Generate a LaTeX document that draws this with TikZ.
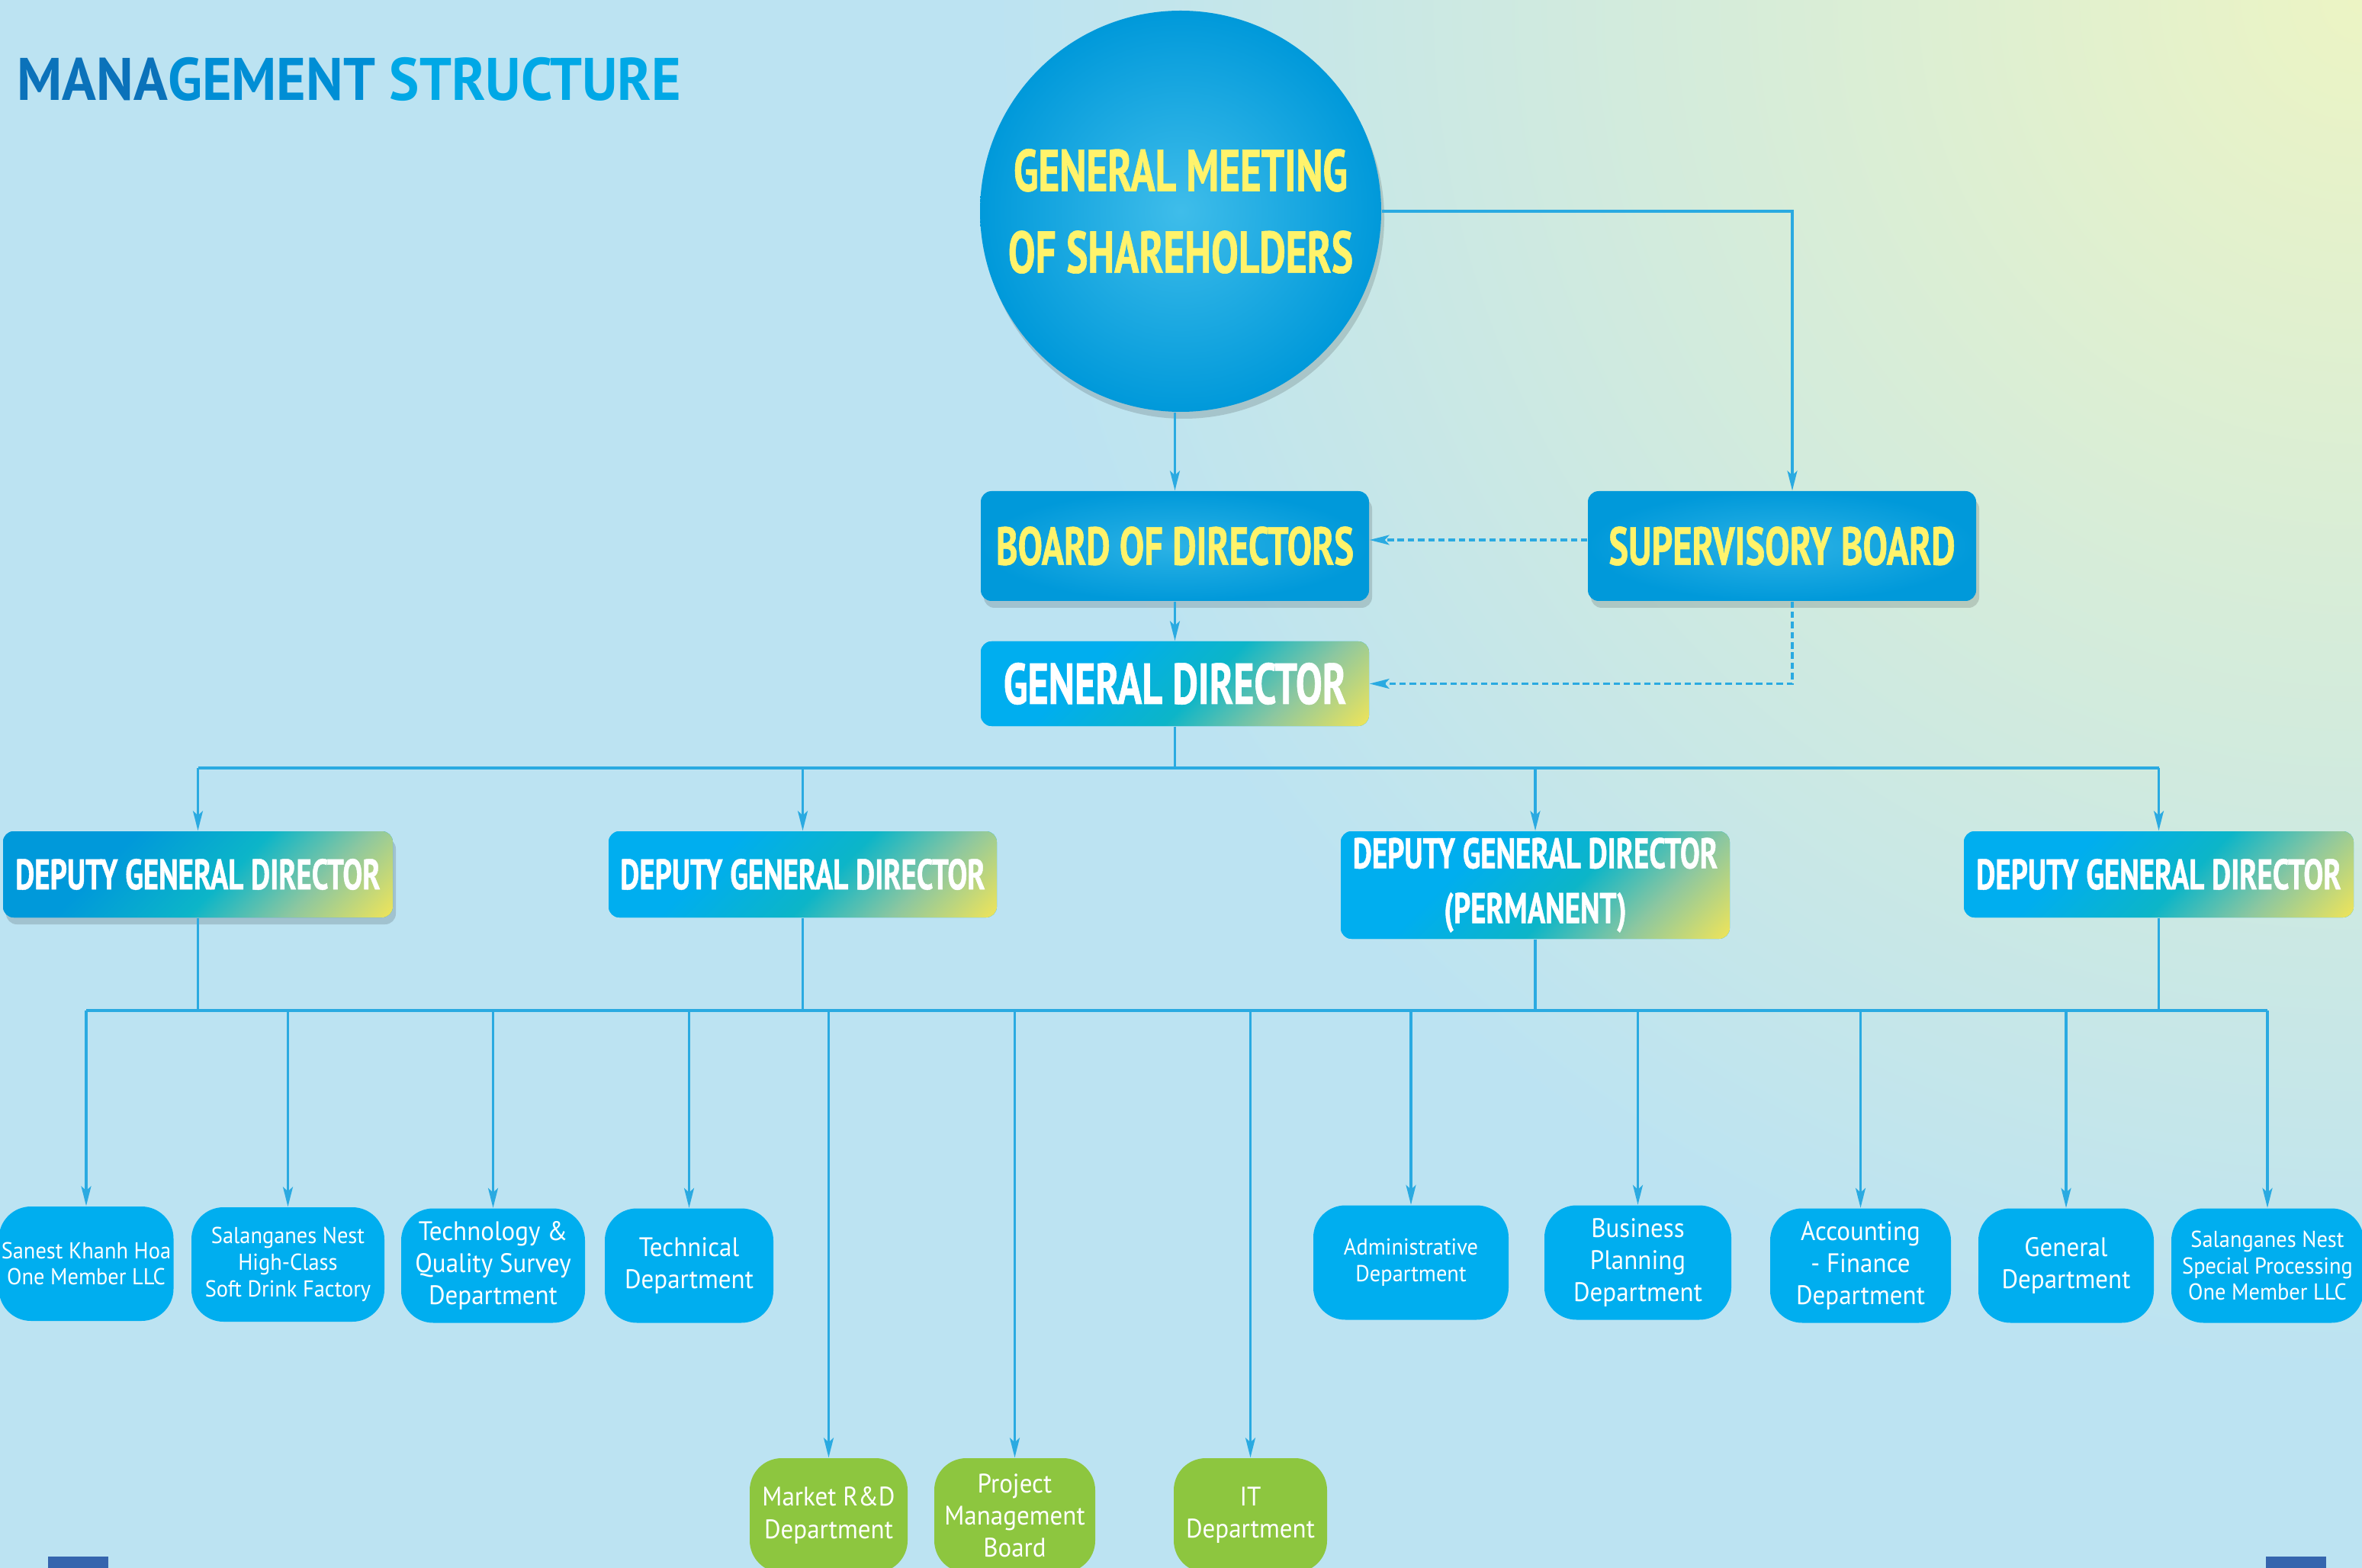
\documentclass[tikz,border=0pt]{standalone}
\usepackage{fontspec}
\setmainfont{PT Sans}
\newfontfamily\headfont{PT Sans}[FakeStretch=0.69, FakeBold=0.8]
\newfontfamily\deptfont{PT Sans}[FakeStretch=0.94]
\newfontfamily\titlefont{PT Sans}[FakeStretch=0.94]
\usepackage{xcolor}
\usetikzlibrary{arrows.meta, shadows, positioning, calc}

\definecolor{pagebg}{HTML}{BCE3F2}
\definecolor{pagewarm}{HTML}{ECF4C4}
\definecolor{linkcol}{HTML}{2AAAE1}
\definecolor{boxblue}{HTML}{00AEEF}
\definecolor{deepblue}{HTML}{0099DA}
\definecolor{glowblue}{HTML}{3FBDEA}
\definecolor{fadeteal}{HTML}{0CB5C8}
\definecolor{fadegreen}{HTML}{8CC7A0}
\definecolor{fadeyellow}{HTML}{EBE35C}
\definecolor{deptgreen}{HTML}{8DC63F}
\definecolor{headyellow}{HTML}{FFF36B}
\definecolor{titledark}{HTML}{0B72BA}
\definecolor{titlemid}{HTML}{008ED5}
\definecolor{titlelight}{HTML}{00A8E6}
\definecolor{tabblue}{HTML}{3565AE}

% the box itself only sees 14.6bp..85.4bp of these when turned by 45 degrees
\pgfdeclarehorizontalshading{bluefade}{100bp}{color(0bp)=(boxblue); color(55bp)=(boxblue); color(67bp)=(fadeteal); color(76bp)=(fadegreen); color(85bp)=(fadeyellow); color(100bp)=(fadeyellow)}
\pgfdeclarehorizontalshading{deepfade}{100bp}{color(0bp)=(deepblue); color(55bp)=(deepblue); color(67bp)=(fadeteal); color(76bp)=(fadegreen); color(85bp)=(fadeyellow); color(100bp)=(fadeyellow)}

\begin{document}
\begin{tikzpicture}
	\tikzstyle{link}=[draw=linkcol, line width=0.9pt]
	\tikzstyle{arr}=[link, -{Stealth[length=2.6mm, width=1.3mm, inset=0.6mm]}]
	\tikzstyle{watch}=[arr, dash pattern=on 2.4pt off 1.4pt]
	\tikzstyle{lift}=[drop shadow={shadow xshift=0.4mm, shadow yshift=-0.9mm, opacity=0.14, fill=black}]
	\tikzstyle{fadebox}=[path picture={\shade[shading=#1, shading angle=-45] (path picture bounding box.south east) rectangle ++(-5.2,5.2);}]
	\tikzstyle{meeting}=[circle, minimum size=5.26cm, inner sep=0pt, inner color=glowblue, outer color=deepblue, lift,
		text=headyellow, align=center, font=\headfont\bfseries\fontsize{22pt}{30.5pt}\selectfont]
	\tikzstyle{topbox}=[rectangle, rounded corners=0.14cm, minimum width=5.09cm, minimum height=1.44cm, inner sep=0pt,
		inner color=glowblue!70!deepblue, outer color=deepblue, lift, text=headyellow, font=\headfont\bfseries\fontsize{20pt}{24pt}\selectfont]
	\tikzstyle{chief}=[rectangle, rounded corners=0.14cm, minimum width=5.09cm, inner sep=0pt, fill=boxblue,
		fadebox=bluefade, text=white, align=center, font=\headfont\bfseries\fontsize{16pt}{19pt}\selectfont]
	\tikzstyle{dept}=[rectangle, rounded corners=0.42cm, minimum height=1.5cm, inner sep=0pt, fill=boxblue,
		text=white, align=center, font=\deptfont\fontsize{10pt}{12pt}\selectfont]
	\tikzstyle{deptsmall}=[dept, font=\deptfont\fontsize{8.6pt}{9.9pt}\selectfont]
	\tikzstyle{project}=[dept, fill=deptgreen]

	\useasboundingbox (0,0) rectangle (30.97,-20.56);

	% page background, warm in the upper right corner
	\fill[pagebg] (0,0) rectangle (30.97,-20.56);
	\begin{scope}
		\clip (0,0) rectangle (30.97,-20.56);
		\shade[inner color=pagewarm, outer color=pagebg] (30.97,0) circle (18);
	\end{scope}

	\node (title) at (0.22,-1.32) [anchor=base west, inner sep=0pt, font=\titlefont\bfseries\fontsize{22.4pt}{26pt}\selectfont]
		{\textcolor{titledark}{MANA}\textcolor{titlemid}{GEMENT} \textcolor{titlelight}{STRUCTURE}};

	% shareholders, boards and general director
	\node (gms) at (15.48,-2.77) [meeting]{GENERAL MEETING\\OF SHAREHOLDERS};
	\node (bod) at (15.405,-7.16) [topbox]{BOARD OF DIRECTORS};
	\node (sb) at (23.365,-7.16) [topbox]{SUPERVISORY BOARD};
	\node (gd) at (15.405,-8.965) [chief, minimum height=1.11cm, font=\headfont\bfseries\fontsize{21.5pt}{24pt}\selectfont]{GENERAL DIRECTOR};

	\draw[arr] (gms.south -| bod) -- (bod);
	\draw[arr] (gms.east) -| ([xshift=1.35mm]sb.north);
	\draw[arr] (bod) -- (gd);
	\draw[watch] ([yshift=0.8mm]sb.west) -- ([yshift=0.8mm]bod.east);
	\draw[watch] ([xshift=1.35mm]sb.south) |- (gd.east);

	% deputies
	\node (d1) at (2.595,-11.465) [chief, minimum width=5.11cm, minimum height=1.13cm, fadebox=deepfade, fill=deepblue, lift]{DEPUTY GENERAL DIRECTOR};
	\node (d2) at (10.525,-11.465) [chief, minimum height=1.13cm]{DEPUTY GENERAL DIRECTOR};
	\node (d3) at (20.13,-11.605) [chief, minimum width=5.1cm, minimum height=1.41cm]{DEPUTY GENERAL DIRECTOR\\[0.05cm](PERMANENT)};
	\node (d4) at (28.305,-11.465) [chief, minimum width=5.11cm, minimum height=1.13cm]{DEPUTY GENERAL DIRECTOR};

	\coordinate (split) at (0,-10.07);
	\draw[link] (gd) -- (gd |- split);
	\draw[link] (d1 |- split) -- (d4 |- split);
	\foreach \d in {d1,d2,d3,d4}
		\draw[arr] (\d |- split) -- (\d);

	% departments and companies
	\node (b1) at (1.13,-16.57) [deptsmall, minimum width=2.29cm]{Sanest Khanh Hoa\\One Member LLC};
	\node (b2) at (3.775,-16.58) [deptsmall, minimum width=2.53cm]{Salanganes Nest\\High-Class\\Soft Drink Factory};
	\node (b3) at (6.465,-16.595) [dept, minimum width=2.41cm]{Technology \&\\Quality Survey\\Department};
	\node (b4) at (9.035,-16.595) [dept, minimum width=2.21cm]{Technical\\Department};
	\node (b5) at (18.5,-16.555) [deptsmall, minimum width=2.56cm]{Administrative\\Department};
	\node (b6) at (21.475,-16.555) [dept, minimum width=2.45cm]{Business\\Planning\\Department};
	\node (b7) at (24.395,-16.595) [dept, minimum width=2.37cm]{Accounting\\- Finance\\Department};
	\node (b8) at (27.09,-16.595) [dept, minimum width=2.3cm]{General\\Department};
	\node (b9) at (29.73,-16.595) [deptsmall, minimum width=2.52cm]{Salanganes Nest\\Special Processing\\One Member LLC};

	\node (g1) at (10.865,-19.87) [project, minimum width=2.07cm]{Market R\&D\\Department};
	\node (g2) at (13.305,-19.87) [project, minimum width=2.11cm]{Project\\Management\\Board};
	\node (g3) at (16.395,-19.87) [project, minimum width=2.01cm]{IT\\Department};

	\coordinate (bus) at (0,-13.25);
	\foreach \d in {d1,d2,d3,d4}
		\draw[link] (\d) -- (\d |- bus);
	\draw[link, line width=1.3pt] (b1 |- bus) -- (b9 |- bus);
	\foreach \b in {b1,b2,b3,b4,b5,b6,b7,b8,b9,g1,g2,g3}
		\draw[arr] (\b |- bus) -- (\b);

	% page number tabs
	\fill[tabblue] (0.63,-20.41) rectangle (1.42,-20.60);
	\fill[tabblue] (29.71,-20.41) rectangle (30.50,-20.60);
\end{tikzpicture}
\end{document}
